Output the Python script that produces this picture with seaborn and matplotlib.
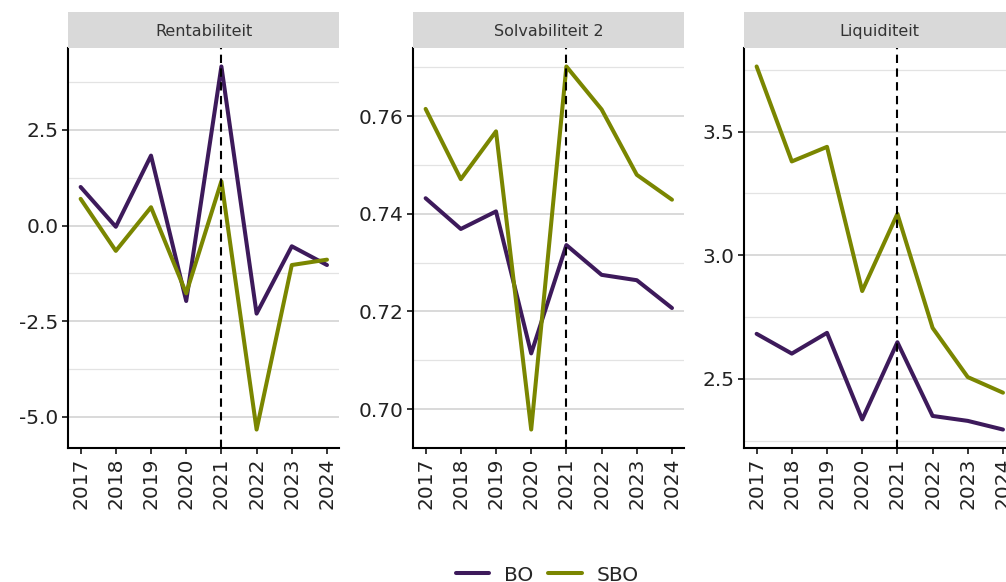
import numpy as np
import pandas as pd
import seaborn as sns
import matplotlib.pyplot as plt
from matplotlib.ticker import FixedLocator, FormatStrFormatter
from matplotlib.lines import Line2D

# ---- data ----
years = [2017, 2018, 2019, 2020, 2021, 2022, 2023, 2024]
panels = ["Rentabiliteit", "Solvabiliteit 2", "Liquiditeit"]
groups = ["BO", "SBO"]

rent_bo = [1.01, -0.03, 1.83, -1.97, 4.16, -2.30, -0.54, -1.03]
rent_sbo = [0.70, -0.66, 0.48, -1.77, 1.16, -5.33, -1.03, -0.89]
solv_bo = [0.7432, 0.7369, 0.7405, 0.7114, 0.7336, 0.7275, 0.7264, 0.7207]
solv_sbo = [0.7615, 0.7471, 0.7569, 0.6958, 0.7702, 0.7614, 0.7480, 0.7429]
liq_bo = [2.682, 2.602, 2.686, 2.336, 2.648, 2.350, 2.330, 2.295]
liq_sbo = [3.763, 3.379, 3.438, 2.855, 3.167, 2.706, 2.507, 2.444]

major_ticks = {
    "Rentabiliteit": [-5.0, -2.5, 0.0, 2.5],
    "Solvabiliteit 2": [0.70, 0.72, 0.74, 0.76],
    "Liquiditeit": [2.5, 3.0, 3.5],
}
minor_ticks = {
    "Rentabiliteit": [-3.75, -1.25, 1.25, 3.75],
    "Solvabiliteit 2": [0.71, 0.73, 0.75, 0.77],
    "Liquiditeit": [2.25, 2.75, 3.25, 3.75],
}
tick_fmt = {"Rentabiliteit": "%.1f", "Solvabiliteit 2": "%.2f", "Liquiditeit": "%.1f"}

series = {
    ("Rentabiliteit", "BO"): rent_bo, ("Rentabiliteit", "SBO"): rent_sbo,
    ("Solvabiliteit 2", "BO"): solv_bo, ("Solvabiliteit 2", "SBO"): solv_sbo,
    ("Liquiditeit", "BO"): liq_bo, ("Liquiditeit", "SBO"): liq_sbo,
}
rows = []
for (panel, grp), vals in series.items():
    for yr, v in zip(years, vals):
        rows.append({"panel": panel, "groep": grp, "jaar": yr, "waarde": v})
df = pd.DataFrame(rows)

palette = {"BO": "#3d1a5b", "SBO": "#7a8600"}

sns.set_theme(style="white")
plt.rcParams["font.family"] = ["DejaVu Sans"]

fig = plt.figure(figsize=(10.06, 5.82), dpi=100)

W, H = 1006, 582
lefts = [68.3, 413.3, 744.3]
ax_w = 271
ax_top, ax_bot = 48.3, 447.7
strip_top = 11.7

for panel, lx in zip(panels, lefts):
    ax = fig.add_axes([lx / W, (H - ax_bot) / H, ax_w / W, (ax_bot - ax_top) / H])
    sub = df[df["panel"] == panel]
    sns.lineplot(data=sub, x="jaar", y="waarde", hue="groep", hue_order=groups,
                 palette=palette, linewidth=2.9, ax=ax, legend=False, zorder=3)
    ax.axvline(2021, color="black", linestyle=(0, (4, 2.6)), linewidth=1.5, zorder=4)

    lo, hi = sub["waarde"].min(), sub["waarde"].max()
    pad = 0.05 * (hi - lo)
    ax.set_ylim(lo - pad, hi + pad)
    ax.set_xlim(2017 - 0.35, 2024 + 0.35)

    ax.set_xticks(years)
    ax.set_xticklabels([str(y) for y in years], rotation=90)
    ax.yaxis.set_major_locator(FixedLocator(major_ticks[panel]))
    ax.yaxis.set_minor_locator(FixedLocator(minor_ticks[panel]))
    ax.yaxis.set_major_formatter(FormatStrFormatter(tick_fmt[panel]))

    ax.grid(axis="y", which="major", color="#cfcfcf", linewidth=1.1, zorder=0)
    ax.grid(axis="y", which="minor", color="#e3e3e3", linewidth=0.9, zorder=0)
    ax.grid(axis="x", visible=False)
    ax.set_axisbelow(True)

    ax.tick_params(axis="both", which="major", labelsize=14.5, labelcolor="#222222",
                   length=4, width=1.1, color="black", direction="out",
                   left=True, bottom=True, pad=3)
    ax.tick_params(axis="y", which="minor", length=0)
    for side in ["top", "right"]:
        ax.spines[side].set_visible(False)
    for side in ["left", "bottom"]:
        ax.spines[side].set_color("black")
        ax.spines[side].set_linewidth(1.5)
    ax.set_xlabel("")
    ax.set_ylabel("")

    # facet strip
    sax = fig.add_axes([lx / W, (H - ax_top) / H, ax_w / W, (ax_top - strip_top) / H])
    sax.set_facecolor("#d9d9d9")
    sax.set_xticks([])
    sax.set_yticks([])
    for s in sax.spines.values():
        s.set_visible(False)
    sax.text(0.5, 0.47, panel, ha="center", va="center", fontsize=11.5,
             color="#333333", transform=sax.transAxes)

handles = [Line2D([0], [0], color=palette[g], linewidth=2.9) for g in groups]
fig.legend(handles, groups, loc="center", bbox_to_anchor=(0.544, 0.012), ncol=2,
           frameon=False, fontsize=14.5, handlelength=1.65, handletextpad=0.75,
           columnspacing=0.75)

plt.savefig("out.png", dpi=100)
